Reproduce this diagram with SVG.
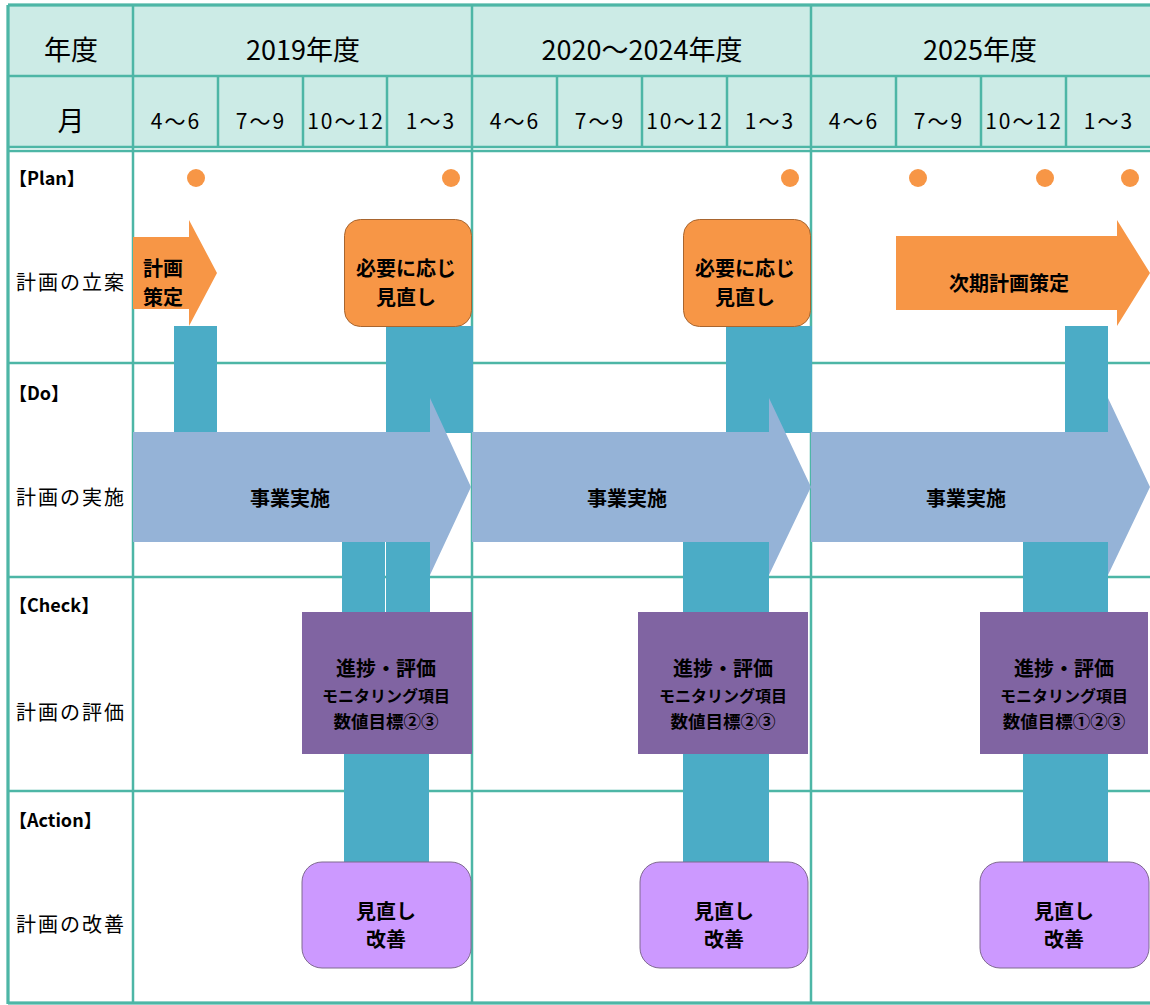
<svg xmlns="http://www.w3.org/2000/svg" width="1150" height="1005" viewBox="0 0 1150 1005">
<style>
text{font-family:"Noto Sans CJK JP","Noto Sans",sans-serif;fill:#000}
.hd{font-size:27px;text-anchor:middle}
.q{font-size:21px;text-anchor:middle;letter-spacing:2px}
.tag{font-size:18px;font-weight:bold}
.lab{font-size:20px;letter-spacing:2px}
.b{font-size:20px;font-weight:bold;text-anchor:middle}
.s{font-size:16px;font-weight:bold;text-anchor:middle}
.n{font-size:17.5px;font-weight:bold;text-anchor:middle}
.grid{stroke:#4DB6A6;stroke-width:2.5;fill:none}
.bar{fill:#4BACC6}
.orange{fill:#F79646}
.do{fill:#95B3D7}
.chk{fill:#8064A2}
.act{fill:#CC99FF;stroke:#7F6A8F;stroke-width:1}
.rev{fill:#F79646;stroke:#A8652F;stroke-width:1}
.dot{fill:#F79646}
</style>
<rect x="0" y="0" width="1150" height="1005" fill="#fff"/>
<g id="grid">
<rect x="8" y="5" width="1142" height="142" fill="#CCEBE6"/>
<path class="grid" d="M8 5H1150M8 76H1150M8 147H1150M8 151H1150M8 363H1150M8 577H1150M8 791H1150M8 1003H1150"/>
<path class="grid" d="M8 5V1004M133 5V1004M472 5V1004M811 5V1004"/>
<path class="grid" d="M218 76V147M303 76V147M387 76V147M557 76V147M642 76V147M727 76V147M896 76V147M981 76V147M1066 76V147"/>
<path stroke="#4DB6A6" stroke-width="3" fill="none" d="M8 5H1150M8 5V1004M8 1003H1150"/>
</g>
<g id="connectors">
<rect class="bar" x="174" y="326" width="43" height="110"/>
<rect class="bar" x="386" y="326" width="87" height="107"/>
<rect class="bar" x="342" y="540" width="43" height="80"/>
<rect class="bar" x="386" y="540" width="44" height="80"/>
<rect class="bar" x="344" y="745" width="85" height="125"/>
<rect class="bar" x="726" y="326" width="86" height="107"/>
<rect class="bar" x="683" y="540" width="86" height="330"/>
<rect class="bar" x="1065" y="326" width="43" height="110"/>
<rect class="bar" x="1023" y="540" width="85" height="330"/>
</g>
<g id="do1">
<polygon class="do" points="133,432 430,432 430,398 471,487 430,575 430,542 133,542"/>
<text class="b" x="290" y="506">事業実施</text>
</g>
<g id="do2">
<polygon class="do" points="472,432 769,432 769,398 811,487 769,575 769,542 472,542"/>
<text class="b" x="627" y="506">事業実施</text>
</g>
<g id="do3">
<polygon class="do" points="811,432 1108,432 1108,398 1150,487 1108,575 1108,542 811,542"/>
<text class="b" x="966" y="506">事業実施</text>
</g>
<g id="plan1">
<polygon class="orange" points="133,237 189,237 189,220 217,273 189,326 189,309 133,309"/>
<text class="b" x="163" y="276">計画</text>
<text class="b" x="163" y="305">策定</text>
</g>
<g id="review1">
<rect class="rev" x="344.5" y="219.5" width="127" height="107" rx="16"/>
<text class="b" x="406" y="276">必要に応じ</text>
<text class="b" x="406" y="305">見直し</text>
</g>
<g id="review2">
<rect class="rev" x="683.5" y="219.5" width="127" height="107" rx="16"/>
<text class="b" x="745" y="276">必要に応じ</text>
<text class="b" x="745" y="305">見直し</text>
</g>
<g id="plan3">
<polygon class="orange" points="896,236 1117,236 1117,220 1150,273 1117,326 1117,310 896,310"/>
<text class="b" x="1009" y="291">次期計画策定</text>
</g>
<g id="check1">
<rect class="chk" x="302" y="612" width="170" height="142"/>
<text class="b" x="386" y="676">進捗・評価</text>
<text class="s" x="386" y="702">モニタリング項目</text>
<text class="n" x="386" y="728">数値目標②③</text>
</g>
<g id="check2">
<rect class="chk" x="638" y="612" width="170" height="142"/>
<text class="b" x="723" y="676">進捗・評価</text>
<text class="s" x="723" y="702">モニタリング項目</text>
<text class="n" x="723" y="728">数値目標②③</text>
</g>
<g id="check3">
<rect class="chk" x="980" y="612" width="168" height="142"/>
<text class="b" x="1064" y="676">進捗・評価</text>
<text class="s" x="1064" y="702">モニタリング項目</text>
<text class="n" x="1064" y="728">数値目標①②③</text>
</g>
<g id="action1">
<rect class="act" x="302" y="862" width="169" height="106" rx="20"/>
<text class="b" x="386" y="919">見直し</text>
<text class="b" x="386" y="947">改善</text>
</g>
<g id="action2">
<rect class="act" x="640" y="862" width="168" height="106" rx="20"/>
<text class="b" x="724" y="919">見直し</text>
<text class="b" x="724" y="947">改善</text>
</g>
<g id="action3">
<rect class="act" x="980" y="862" width="169" height="106" rx="20"/>
<text class="b" x="1064" y="919">見直し</text>
<text class="b" x="1064" y="947">改善</text>
</g>
<g id="dots">
<circle class="dot" cx="196" cy="178" r="9"/>
<circle class="dot" cx="451" cy="178" r="9"/>
<circle class="dot" cx="790" cy="178" r="9"/>
<circle class="dot" cx="918" cy="178" r="9"/>
<circle class="dot" cx="1045" cy="178" r="9"/>
<circle class="dot" cx="1130" cy="178" r="9"/>
</g>
<g id="header">
<text class="hd" x="71" y="60">年度</text>
<text class="hd" x="303" y="60">2019年度</text>
<text class="hd" x="642" y="60">2020～2024年度</text>
<text class="hd" x="980" y="60">2025年度</text>
<text class="hd" x="71" y="131">月</text>
<text class="q" x="176" y="129">4～6</text>
<text class="q" x="261" y="129">7～9</text>
<text class="q" x="346" y="129">10～12</text>
<text class="q" x="431" y="129">1～3</text>
<text class="q" x="515" y="129">4～6</text>
<text class="q" x="600" y="129">7～9</text>
<text class="q" x="685" y="129">10～12</text>
<text class="q" x="770" y="129">1～3</text>
<text class="q" x="854" y="129">4～6</text>
<text class="q" x="939" y="129">7～9</text>
<text class="q" x="1024" y="129">10～12</text>
<text class="q" x="1109" y="129">1～3</text>
</g>
<g id="labels">
<text class="tag" x="9" y="185">【Plan】</text>
<text class="lab" x="16" y="290">計画の立案</text>
<text class="tag" x="9" y="400">【Do】</text>
<text class="lab" x="16" y="505">計画の実施</text>
<text class="tag" x="9" y="612">【Check】</text>
<text class="lab" x="16" y="720">計画の評価</text>
<text class="tag" x="9" y="827">【Action】</text>
<text class="lab" x="16" y="932">計画の改善</text>
</g>
</svg>
